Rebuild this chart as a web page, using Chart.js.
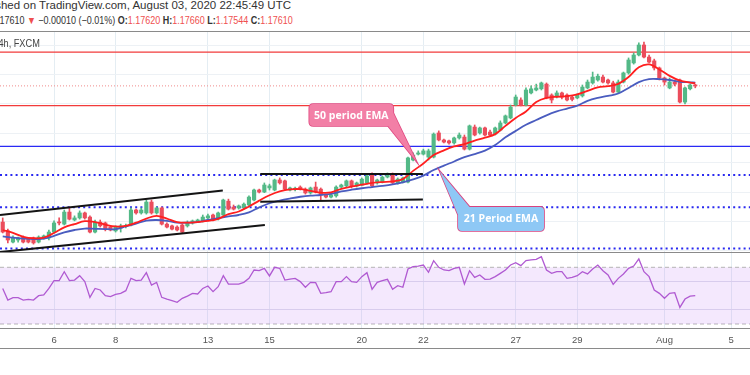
<!DOCTYPE html>
<html><head><meta charset="utf-8">
<script src="https://cdn.jsdelivr.net/npm/chart.js@4.4.1/dist/chart.umd.min.js"></script>
<style>
html,body{margin:0;padding:0;background:#fff;width:750px;height:375px;overflow:hidden;position:relative;font-family:"Liberation Sans","Open Sans",sans-serif;}
.hdr{position:absolute;white-space:nowrap;color:#333;z-index:5;}
#h1{right:459px;top:-1px;font-size:11.5px;}
#h2{right:457px;top:14px;font-size:10.6px;transform:scaleX(0.848);transform-origin:right center;}
.lb{font-weight:bold;color:#333;}
.rv{color:#ef4f4f;}
#sym{position:absolute;right:710px;top:38px;font-size:10px;color:#444;white-space:nowrap;z-index:5;transform:scaleX(0.92);transform-origin:right center;}
.hl{position:absolute;left:0;width:750px;height:1px;background:#8a8a8a;z-index:4;}
canvas{position:absolute;left:0;}
</style></head>
<body>
<div class="hdr" id="h1">Published on TradingView.com, August 03, 2020 22:45:49 UTC</div>
<div class="hdr" id="h2">FX:EURUSD, 1.17610 <span class="rv">▼</span> −0.00010 (−0.01%) <span class="lb">O:</span><span class="rv">1.17620</span> <span class="lb">H:</span><span class="rv">1.17660</span> <span class="lb">L:</span><span class="rv">1.17544</span> <span class="lb">C:</span><span class="rv">1.17610</span></div>
<div id="sym">Euro / U.S. Dollar, 4h, FXCM</div>
<div class="hl" style="top:31px"></div>
<div class="hl" style="top:252px"></div>
<div class="hl" style="top:328px"></div>
<div class="hl" style="top:348px"></div>
<canvas id="main" width="750" height="221" style="top:32px"></canvas>
<canvas id="rsi" width="750" height="96" style="top:253px"></canvas>
<script>
// ---- data (4h bars, bar index 0 = Jul 6 00:00) ----
const firstBar = -10;
const open = [1.1298,1.1268,1.1230,1.1237,1.1247,1.1240,1.1244,1.1230,1.1244,1.1244,
1.1264,1.1298,1.1291,1.1332,1.1305,1.1312,1.1329,1.1315,1.1264,1.1298,
1.1295,1.1281,1.1268,1.1278,1.1283,1.1288,1.1339,1.1329,1.1329,1.1366,
1.1329,1.1346,1.1291,1.1285,1.1281,1.1288,1.1285,1.1295,1.1298,1.1302,
1.1312,1.1322,1.1308,1.1322,1.1369,1.1349,1.1346,1.1346,1.1356,1.1373,
1.1407,1.1400,1.1414,1.1407,1.1441,1.1438,1.1407,1.1409,1.1417,1.1410,
1.1397,1.1417,1.1410,1.1390,1.1383,1.1387,1.1417,1.1421,1.1438,1.1421,
1.1424,1.1431,1.1461,1.1431,1.1434,1.1451,1.1461,1.1431,1.1434,1.1434,
1.1509,1.1529,1.1529,1.1519,1.1519,1.1601,1.1577,1.1574,1.1567,1.1584,
1.1587,1.1546,1.1621,1.1601,1.1618,1.1604,1.1597,1.1611,1.1635,1.1652,
1.1696,1.1713,1.1696,1.1737,1.1747,1.1751,1.1767,1.1730,1.1727,1.1737,
1.1730,1.1723,1.1720,1.1727,1.1754,1.1771,1.1781,1.1791,1.1781,1.1771,
1.1740,1.1774,1.1805,1.1839,1.1866,1.1900,1.1859,1.1846,1.1822,1.1788,
1.1754,1.1774,1.1781,1.1706,1.1751,1.17620];
const high = [1.1312,1.1274,1.1251,1.1247,1.1251,1.1244,1.1247,1.1251,1.1254,1.1271,
1.1302,1.1312,1.1339,1.1349,1.1319,1.1336,1.1332,1.1319,1.1305,1.1305,
1.1298,1.1285,1.1285,1.1291,1.1291,1.1346,1.1342,1.1346,1.1373,1.1373,
1.1349,1.1349,1.1295,1.1288,1.1285,1.1291,1.1302,1.1305,1.1308,1.1322,
1.1325,1.1325,1.1332,1.1376,1.1376,1.1356,1.1356,1.1363,1.1387,1.1410,
1.1410,1.1431,1.1427,1.1444,1.1448,1.1441,1.1417,1.1417,1.1421,1.1414,
1.1417,1.1434,1.1414,1.1393,1.1393,1.1421,1.1427,1.1441,1.1441,1.1434,
1.1448,1.1461,1.1465,1.1444,1.1455,1.1465,1.1465,1.1448,1.1451,1.1519,
1.1533,1.1540,1.1546,1.1546,1.1601,1.1608,1.1580,1.1577,1.1587,1.1601,
1.1594,1.1628,1.1628,1.1621,1.1621,1.1611,1.1621,1.1642,1.1662,1.1696,
1.1730,1.1720,1.1754,1.1761,1.1767,1.1774,1.1771,1.1734,1.1744,1.1740,
1.1734,1.1727,1.1734,1.1764,1.1781,1.1808,1.1801,1.1798,1.1784,1.1777,
1.1781,1.1808,1.1856,1.1873,1.1907,1.1910,1.1866,1.1852,1.1825,1.1791,
1.1788,1.1781,1.1784,1.1757,1.1767,1.17660];
const low = [1.1261,1.1227,1.1227,1.1230,1.1227,1.1227,1.1223,1.1227,1.1240,1.1237,
1.1261,1.1288,1.1288,1.1305,1.1302,1.1308,1.1308,1.1261,1.1261,1.1281,
1.1268,1.1268,1.1264,1.1264,1.1278,1.1285,1.1325,1.1325,1.1325,1.1325,
1.1325,1.1288,1.1278,1.1271,1.1268,1.1261,1.1281,1.1291,1.1296,1.1298,
1.1308,1.1302,1.1305,1.1319,1.1339,1.1339,1.1342,1.1342,1.1353,1.1370,
1.1397,1.1398,1.1407,1.1404,1.1427,1.1407,1.1404,1.1404,1.1407,1.1393,
1.1393,1.1397,1.1373,1.1380,1.1380,1.1383,1.1414,1.1417,1.1414,1.1417,
1.1421,1.1427,1.1417,1.1427,1.1431,1.1448,1.1427,1.1427,1.1431,1.1431,
1.1506,1.1526,1.1526,1.1509,1.1516,1.1574,1.1567,1.1563,1.1563,1.1580,
1.1543,1.1543,1.1591,1.1597,1.1591,1.1591,1.1594,1.1608,1.1632,1.1649,
1.1693,1.1693,1.1693,1.1734,1.1744,1.1747,1.1717,1.1703,1.1720,1.1717,
1.1710,1.1710,1.1717,1.1723,1.1751,1.1767,1.1777,1.1771,1.1767,1.1737,
1.1737,1.1771,1.1801,1.1835,1.1863,1.1856,1.1839,1.1815,1.1781,1.1764,
1.1751,1.1761,1.1703,1.1700,1.1747,1.17544];
const close = [1.1264,1.1237,1.1244,1.1244,1.1230,1.1230,1.1227,1.1247,1.1251,1.1264,
1.1295,1.1295,1.1332,1.1308,1.1312,1.1329,1.1312,1.1264,1.1298,1.1285,
1.1274,1.1271,1.1281,1.1285,1.1285,1.1339,1.1329,1.1339,1.1366,1.1329,
1.1346,1.1291,1.1281,1.1274,1.1271,1.1264,1.1295,1.1302,1.1305,1.1315,
1.1319,1.1305,1.1329,1.1373,1.1342,1.1342,1.1353,1.1359,1.1383,1.1407,
1.1400,1.1424,1.1421,1.1441,1.1431,1.1410,1.1414,1.1413,1.1410,1.1397,
1.1414,1.1400,1.1390,1.1383,1.1390,1.1417,1.1424,1.1438,1.1421,1.1431,
1.1444,1.1455,1.1421,1.1441,1.1451,1.1458,1.1431,1.1444,1.1448,1.1516,
1.1526,1.1533,1.1540,1.1540,1.1597,1.1577,1.1570,1.1567,1.1584,1.1594,
1.1546,1.1625,1.1594,1.1618,1.1594,1.1594,1.1618,1.1635,1.1659,1.1689,
1.1723,1.1696,1.1747,1.1751,1.1754,1.1771,1.1720,1.1713,1.1737,1.1723,
1.1713,1.1715,1.1730,1.1757,1.1774,1.1791,1.1794,1.1774,1.1771,1.1740,
1.1774,1.1805,1.1849,1.1866,1.1900,1.1859,1.1842,1.1822,1.1788,1.1774,
1.1774,1.1767,1.1706,1.1754,1.1764,1.17610];

const emaBars = [-10,-8,-6,-4,-2,0,2,4,6,8,10,12,14,16,18,20,22,24,26,28,30,32,34,36,38,40,42,44,46,48,
50,52,54,56,58,60,62,64,66,68,70,72,74,76,78,80,82,84,86,88,90,92,94,96,98,100,102,104,106,108,
110,112,114,116,118,120,122,124,125];
const emaFast = [1.1271,1.1261,1.1248,1.1243,1.1245,1.1261,1.1280,1.1291,1.1301,1.1298,1.1289,1.1283,1.1285,1.1296,1.1310,1.1319,1.1310,1.1298,1.1296,1.1298,
1.1302,1.1309,1.1325,1.1334,1.1351,1.1371,1.1389,1.1402,1.1409,1.1410,1.1404,1.1398,1.1399,1.1411,1.1419,1.1425,1.1431,1.1434,1.1436,1.1444,
1.1472,1.1497,1.1526,1.1542,1.1555,1.1563,1.1575,1.1585,1.1597,1.1625,1.1652,1.1674,1.1706,1.1720,1.1724,1.1726,1.1732,1.1744,1.1756,1.1760,
1.1768,1.1791,1.1824,1.1834,1.1817,1.1795,1.1779,1.1772,1.1770];
const emaSlow = [1.1249,1.1245,1.1242,1.1240,1.1242,1.1251,1.1263,1.1271,1.1276,1.1275,1.1274,1.1274,1.1283,1.1293,1.1303,1.1305,1.1302,1.1296,1.1296,1.1298,
1.1305,1.1311,1.1317,1.1322,1.1331,1.1348,1.1362,1.1371,1.1378,1.1384,1.1388,1.1390,1.1394,1.1402,1.1408,1.1413,1.1417,1.1421,1.1426,1.1433,
1.1443,1.1456,1.1475,1.1490,1.1504,1.1519,1.1529,1.1541,1.1560,1.1586,1.1608,1.1629,1.1645,1.1661,1.1674,1.1684,1.1694,1.1710,1.1720,1.1727,
1.1735,1.1754,1.1774,1.1784,1.1784,1.1781,1.1775,1.1773,1.1772];

const rsi = [55.1,46.9,48.6,48.6,46.9,47.4,46.9,50.0,50.5,55.1,
60.6,60.6,66.9,60.6,61.0,64.1,59.9,48.8,55.1,54.0,
50.0,49.3,50.9,51.6,53.5,62.2,60.6,61.0,66.2,57.5,
59.4,48.8,47.6,46.5,45.3,48.1,49.7,51.6,51.2,55.1,
56.8,52.8,56.3,64.1,58.2,58.2,58.2,59.4,62.2,68.1,
67.6,69.3,63.9,70.0,69.3,61.0,61.7,62.2,59.9,55.9,
59.4,59.2,51.6,52.1,52.8,59.9,59.9,63.4,59.9,59.4,
63.4,66.2,54.5,59.4,60.6,61.5,54.5,57.0,55.9,68.8,
70.5,70.9,71.6,66.5,74.7,70.0,68.1,67.6,69.3,70.0,
58.2,67.6,62.9,64.6,61.5,61.7,63.4,65.7,68.1,71.6,
73.3,71.2,74.7,75.2,75.6,77.5,68.1,65.7,66.9,66.9,
62.2,62.9,64.1,66.9,65.3,68.8,71.6,67.6,64.6,58.0,
62.2,65.3,69.3,70.9,75.9,66.9,63.4,54.0,51.6,48.1,
51.6,52.1,41.7,47.6,49.7,50.0];

const tickBars = [0,12,30,42,60,72,90,102,119,132];
const tickLabels = ['6','8','13','15','20','22','27','29','Aug','5'];
const priceGrid = [1.12,1.13,1.14,1.15,1.16,1.17,1.18,1.19];

const redLevels = [1.1876, 1.1694];
const blueSolidLevels = [1.1555];
const blueDottedLevels = [1.1458, 1.1348, 1.1208];
const lastPrice = 1.1761;

const channelTop = [[-10.53,1.1322],[32.9,1.1405]];
const channelBottom = [[-10.53,1.1196],[41.1,1.1288]];
const rangeTop = [[40.2,1.1461],[71.9,1.1461]];
const rangeBottom = [[40.2,1.1367],[71.9,1.1375]];

const calloutTexts = ['50 period EMA','21 Period EMA'];
const calloutTips = [[70.7,1.1503],[75.15,1.1472]];

// ---- view ----
const X_MIN = -10.53, X_MAX = 135.67;
const UP = '#53b987', DOWN = '#eb4d5c';
Chart.defaults.font.family = "'Liberation Sans','Open Sans',sans-serif";

const barX = open.map((_, i) => firstBar + i);
const candleColors = open.map((o, i) => close[i] >= o ? UP : DOWN);

function hline(v, color, width, dash, order) {
  return {type:'line', data:[{x:X_MIN,y:v},{x:X_MAX,y:v}], borderColor:color, borderWidth:width,
    borderDash:dash||[], pointRadius:0, fill:false, order:order};
}
function seg(pts, order) {
  return {type:'line', data:pts.map(p=>({x:p[0],y:p[1]})), borderColor:'#141414', borderWidth:2,
    pointRadius:0, fill:false, order:order};
}

const datasets = [];
redLevels.forEach(v => datasets.push(hline(v, '#f23b3b', 1.2, [], 9)));
blueSolidLevels.forEach(v => datasets.push(hline(v, '#2a2af5', 1.2, [], 9)));
blueDottedLevels.forEach(v => datasets.push(hline(v, '#2a2af0', 2, [2,3.2], 9)));
datasets.push(hline(lastPrice, '#f08a8a', 1, [1,2], 9));
datasets.push({type:'bar', data: barX.map((x,i)=>({x, y:[low[i], high[i]]})), backgroundColor:candleColors,
  barThickness:1, grouped:false, order:6});
datasets.push({type:'bar', data: barX.map((x,i)=>({x, y:[open[i], close[i]]})), backgroundColor:candleColors,
  barThickness:3.5, minBarLength:1, grouped:false, order:5});
datasets.push({type:'line', data: emaBars.map((b,i)=>({x:b, y:emaSlow[i]})), borderColor:'#4a5cbf', borderWidth:1.8,
  pointRadius:0, tension:0.35, fill:false, order:4});
datasets.push({type:'line', data: emaBars.map((b,i)=>({x:b, y:emaFast[i]})), borderColor:'#ff1f1f', borderWidth:1.8,
  pointRadius:0, tension:0.35, fill:false, order:3});
[channelTop, channelBottom, rangeTop, rangeBottom].forEach(s => datasets.push(seg(s, 2)));

const calloutStyle = [
  {box:[-107.4,-57.7,84,22], tail:[[-28.7,-35.7],[-23.4,-48.7]], fill:'#f27fa6', stroke:'#e0477f'},
  {box:[18.5,36,86,24], tail:[[18.5,44],[30,36]], fill:'#8ec8f5', stroke:'#d9437f'}
];

function rrect(ctx, x, y, w, h, r) {
  ctx.beginPath();
  ctx.moveTo(x+r, y); ctx.lineTo(x+w-r, y); ctx.quadraticCurveTo(x+w, y, x+w, y+r);
  ctx.lineTo(x+w, y+h-r); ctx.quadraticCurveTo(x+w, y+h, x+w-r, y+h);
  ctx.lineTo(x+r, y+h); ctx.quadraticCurveTo(x, y+h, x, y+h-r);
  ctx.lineTo(x, y+r); ctx.quadraticCurveTo(x, y, x+r, y); ctx.closePath();
}

const calloutPlugin = {
  id:'callouts',
  afterDatasetsDraw(chart) {
    const ctx = chart.ctx, xs = chart.scales.x, ys = chart.scales.y;
    calloutTexts.forEach((t, i) => {
      const tx = xs.getPixelForValue(calloutTips[i][0]);
      const ty = ys.getPixelForValue(calloutTips[i][1]);
      const st = calloutStyle[i];
      const bx = tx + st.box[0], by = ty + st.box[1], bw = st.box[2], bh = st.box[3];
      const a = st.tail[0], b = st.tail[1];
      ctx.save();
      ctx.lineWidth = 1.6; ctx.strokeStyle = st.stroke; ctx.fillStyle = st.fill;
      ctx.beginPath(); ctx.moveTo(tx+a[0], ty+a[1]); ctx.lineTo(tx, ty); ctx.lineTo(tx+b[0], ty+b[1]); ctx.stroke();
      rrect(ctx, bx, by, bw, bh, 4); ctx.stroke(); ctx.fill();
      ctx.beginPath(); ctx.moveTo(tx+a[0], ty+a[1]); ctx.lineTo(tx, ty); ctx.lineTo(tx+b[0], ty+b[1]); ctx.closePath(); ctx.fill();
      ctx.fillStyle = '#ffffff'; ctx.font = "bold 10.5px 'Open Sans','Liberation Sans',sans-serif";
      ctx.textAlign = 'center'; ctx.textBaseline = 'middle';
      ctx.fillText(t, bx + bw/2, by + bh/2 + 0.5);
      ctx.restore();
    });
  }
};

new Chart(document.getElementById('main'), {
  type:'bar',
  data:{datasets},
  plugins:[calloutPlugin],
  options:{
    responsive:false, animation:false, devicePixelRatio:1,
    layout:{padding:0},
    plugins:{legend:{display:false}, tooltip:{enabled:false}},
    scales:{
      x:{type:'linear', min:X_MIN, max:X_MAX, offset:false,
        afterBuildTicks:s=>{ s.ticks = tickBars.map(v=>({value:v})); },
        afterFit:s=>{ s.height = 0; },
        ticks:{display:false}, grid:{color:'#e4edf3', drawTicks:false, offset:false}, border:{display:false}},
      y:{min:1.11928, max:1.19442,
        afterBuildTicks:s=>{ s.ticks = priceGrid.map(v=>({value:v})); },
        afterFit:s=>{ s.width = 0; },
        ticks:{display:false}, grid:{color:'#edf1f5', drawTicks:false}, border:{display:false}}
    }
  }
});

new Chart(document.getElementById('rsi'), {
  type:'line',
  data:{datasets:[
    {data: barX.map((x,i)=>({x, y:rsi[i]})), borderColor:'#b05ad2', borderWidth:1.3, pointRadius:0, fill:false, order:0},
    {data:[{x:X_MIN,y:70},{x:X_MAX,y:70}], borderColor:'#b4b4b4', borderWidth:1, borderDash:[4,3], pointRadius:0,
      fill:'+1', backgroundColor:'rgba(200,140,245,0.2)', order:2},
    {data:[{x:X_MIN,y:30},{x:X_MAX,y:30}], borderColor:'#b4b4b4', borderWidth:1, borderDash:[4,3], pointRadius:0, fill:false, order:2}
  ]},
  options:{
    responsive:false, animation:false, devicePixelRatio:1,
    layout:{padding:0},
    plugins:{legend:{display:false}, tooltip:{enabled:false}},
    scales:{
      x:{type:'linear', min:X_MIN, max:X_MAX,
        afterBuildTicks:s=>{ s.ticks = tickBars.map(v=>({value:v})); },
        afterFit:s=>{ s.height = 20; },
        ticks:{autoSkip:false, maxRotation:0, padding:6, color:'#555', font:{size:9.5},
          callback:(v)=>{ const i = tickBars.indexOf(v); return i>=0 ? tickLabels[i] : ''; }},
        grid:{color:'#e4edf3', drawTicks:false}, border:{display:false}},
      y:{min:26.47, max:80.09,
        afterBuildTicks:s=>{ s.ticks = [{value:40},{value:60}]; },
        afterFit:s=>{ s.width = 0; },
        ticks:{display:false}, grid:{color:'#dcdcec', drawTicks:false}, border:{display:false}}
    }
  }
});
</script>
</body></html>
